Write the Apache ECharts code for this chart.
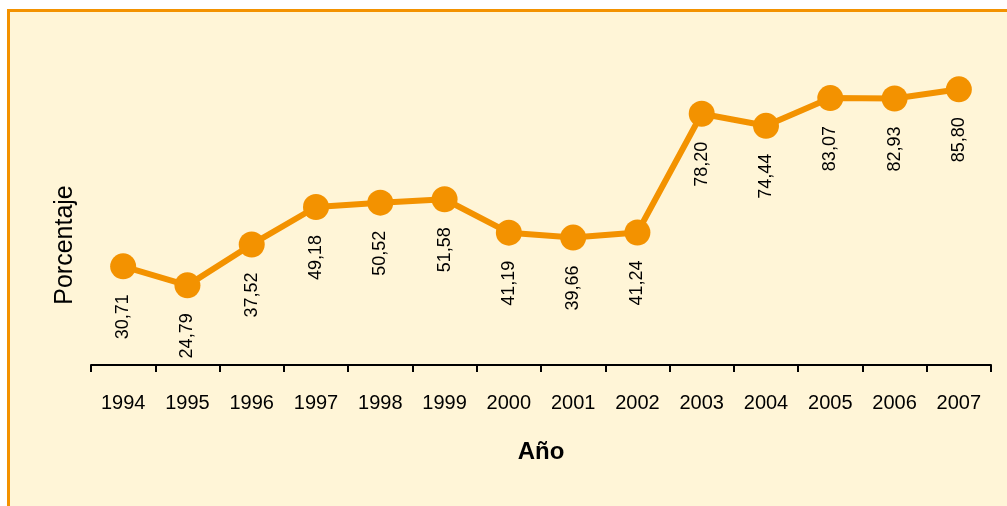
<!DOCTYPE html>
<html>
<head>
<meta charset="utf-8">
<script src="https://cdn.jsdelivr.net/npm/echarts@6/dist/echarts.min.js"></script>
<style>
  html, body { margin: 0; padding: 0; background: #fff; overflow: hidden; }
  #frame {
    position: absolute; left: 7px; top: 9px; width: 1100px; height: 600px;
    border-left: 3px solid #f39200; border-top: 3px solid #f39200;
    background: #fff5d7;
  }
  #chart { position: absolute; left: 0; top: 0; width: 1007px; height: 506px; }
</style>
</head>
<body>
<div id="frame"></div>
<div id="chart"></div>
<script>
// años y porcentajes
const years = ['1994', '1995', '1996', '1997', '1998', '1999', '2000',
  '2001', '2002', '2003', '2004', '2005', '2006', '2007'];
const percent = [30.71, 24.79, 37.52, 49.18, 50.52, 51.58, 41.19,
  39.66, 41.24, 78.20, 74.44, 83.07, 82.93, 85.80];

const orange = '#f39200';
const font = 'Liberation Sans, Arial, sans-serif';

const myChart = echarts.init(document.getElementById('chart'));
myChart.setOption({
  backgroundColor: 'transparent',
  animation: false,
  grid: { left: 91, right: 16, top: 40, bottom: 136 },
  xAxis: {
    type: 'category',
    data: years,
    boundaryGap: true,
    name: 'Año',
    nameLocation: 'middle',
    nameGap: 70,
    nameTextStyle: { fontFamily: font, fontSize: 24, fontWeight: 'bold', color: '#000' },
    axisLine: { lineStyle: { color: '#000', width: 2 } },
    axisTick: { show: true, interval: 0, length: 7, lineStyle: { color: '#000', width: 2 } },
    axisLabel: { fontFamily: font, fontSize: 20, color: '#000', margin: 23, interval: 0 }
  },
  yAxis: {
    type: 'value',
    min: -1.556,
    max: 101.15,
    show: false
  },
  graphic: [
    {
      type: 'text',
      x: 65,
      y: 245,
      rotation: Math.PI / 2,
      style: {
        text: 'Porcentaje',
        font: '25px ' + font,
        fill: '#000',
        align: 'center',
        verticalAlign: 'middle'
      }
    }
  ],
  series: [
    {
      type: 'line',
      data: percent,
      symbol: 'circle',
      symbolSize: 26,
      itemStyle: { color: orange },
      lineStyle: { color: orange, width: 6 },
      label: {
        show: true,
        position: 'bottom',
        distance: 15,
        rotate: 90,
        align: 'right',
        verticalAlign: 'middle',
        fontFamily: font,
        fontSize: 18,
        color: '#000',
        formatter: (p) => p.value.toFixed(2).replace('.', ',')
      }
    }
  ]
});
</script>
</body>
</html>
